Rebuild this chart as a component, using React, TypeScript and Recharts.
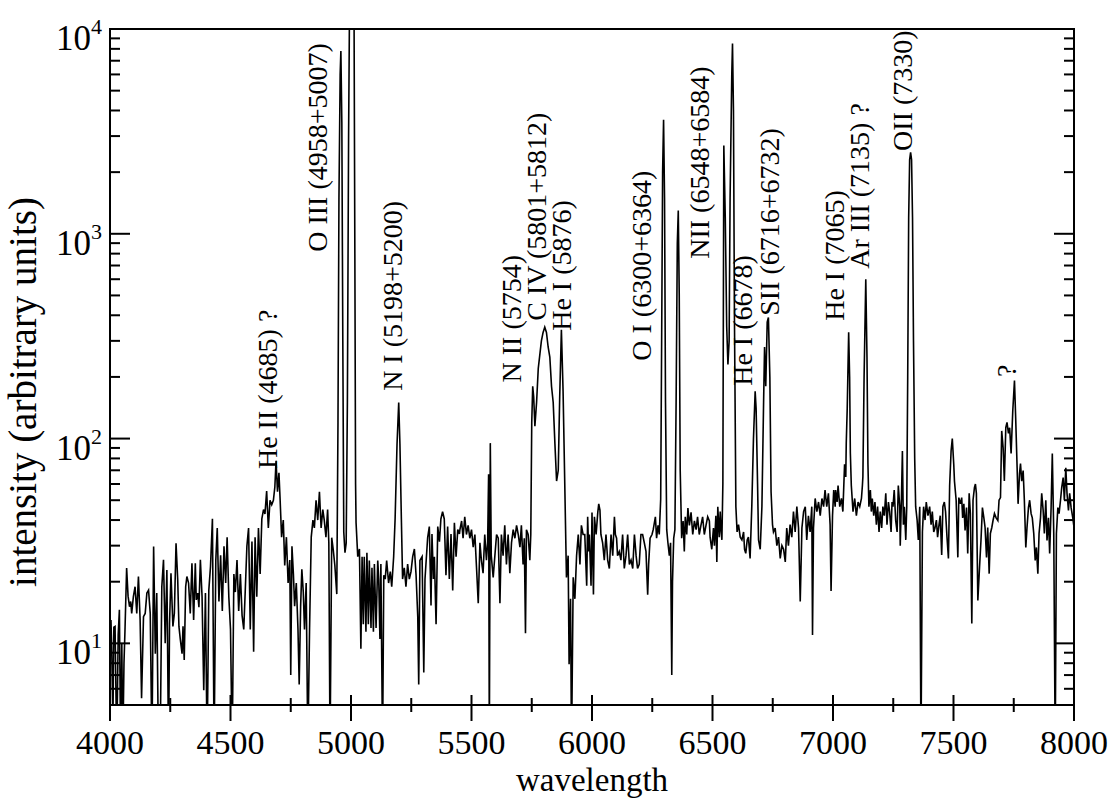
import React from "react";
import {
  LineChart,
  Line,
  XAxis,
  YAxis,
  ReferenceArea,
  ReferenceDot,
  Label,
} from "recharts";

const FONT = "Liberation Serif, Times New Roman, Times, serif";

// [wavelength, intensity], one stretch at a time
const blueNoise: [number, number][] = [
  [4000, 9], [4004, 13], [4007, 9.6], [4012, 4], [4016, 12], [4021, 12.1], [4028, 3],
  [4034, 11], [4039, 14.6], [4044, 3], [4049, 10], [4053, 3], [4058, 8], [4062, 11.4],
  [4069, 23.3], [4075, 17], [4081, 15.1], [4086, 16], [4090, 14], [4097, 16.9], [4104, 18.9],
  [4111, 14], [4118, 21.2], [4125, 13], [4131, 5.4], [4139, 13.5], [4146, 14], [4153, 17.6],
  [4160, 18.2], [4167, 14], [4174, 3], [4181, 29.7], [4188, 8.9], [4194, 17.6], [4201, 3],
  [4208, 3], [4215, 18.9], [4222, 25.6], [4229, 10], [4236, 22.8], [4243, 3], [4247, 12.5],
  [4253, 22], [4261, 12.1], [4267, 14], [4274, 30.8], [4281, 20.4], [4286, 12.1], [4292, 10.4],
  [4299, 8.9], [4303, 12.1], [4308, 8.3], [4314, 18.9], [4319, 21.2], [4326, 19.7], [4333, 14],
  [4340, 24.6], [4347, 13], [4354, 24.6], [4358, 16.3], [4364, 17.6], [4369, 15], [4375, 25.6],
  [4382, 16.9], [4389, 5.9], [4396, 17.6], [4403, 3], [4410, 18.2], [4417, 23.7],
];

const heliumII: [number, number][] = [
  [4425, 40.6], [4432, 3], [4439, 25.5], [4445, 36.6], [4452, 16], [4459, 26.9], [4466, 14.4],
  [4473, 29.8], [4480, 19.7], [4486, 33], [4493, 16.9], [4500, 11.7], [4507, 3], [4514, 21.8],
  [4520, 17.8], [4527, 25.5], [4534, 14.4], [4541, 21.8], [4548, 13.7], [4555, 11.7], [4561, 17.8],
  [4568, 29.8], [4575, 36.6], [4582, 11.7], [4589, 31.4], [4596, 9.1], [4602, 33], [4609, 16.9],
  [4616, 36.6], [4623, 21.8], [4630, 40.6], [4637, 45], [4643, 42.8], [4650, 55.5], [4657, 36.6],
  [4664, 50], [4671, 47.5], [4678, 50], [4684, 58], [4689, 78], [4695, 55], [4701, 68],
  [4706, 50], [4712, 33], [4719, 40], [4725, 24], [4732, 33], [4739, 19.7], [4746, 25.5],
  [4750, 7], [4755, 29.8], [4761, 21.8], [4766, 15.2], [4773, 19.7], [4780, 11.7], [4785, 6.3],
  [4791, 15.2], [4796, 23], [4802, 17.8], [4807, 11.7], [4814, 19.7], [4821, 3], [4828, 11.7],
  [4835, 33], [4842, 40], [4848, 36.6], [4855, 50], [4862, 40], [4869, 55], [4876, 36.6],
  [4883, 45], [4889, 40], [4896, 33], [4903, 45], [4908, 31],
];

const oxygenIII: [number, number][] = [
  [4913, 3], [4920, 32.8], [4926, 28.9], [4933, 24], [4941, 17.4], [4946, 120], [4950, 1500],
  [4955, 6000], [4958, 7800], [4962, 3500], [4966, 300], [4970, 35], [4975, 27.7], [4980, 30.8],
  [4985, 150], [4990, 3000], [4995, 20000], [5005, 40000], [5012, 20000], [5016, 800], [5019, 60],
  [5021, 38.8],
];

const nitrogenI: [number, number][] = [
  [5028, 26.5], [5035, 28.9], [5041, 9.4], [5046, 26.5], [5051, 12.4], [5055, 26.5], [5062, 11.4],
  [5066, 27.7], [5072, 12.4], [5076, 25.4], [5083, 11.9], [5087, 23.4], [5093, 11.4], [5097, 24.4],
  [5104, 11.9], [5111, 25.4], [5115, 20.6], [5120, 10.5], [5124, 24.4], [5131, 3], [5136, 21.5],
  [5142, 20.6], [5148, 25.4], [5156, 19.7], [5163, 22.4], [5169, 18.9], [5177, 26.5], [5183, 40.5],
  [5191, 94], [5198, 150], [5203, 94], [5209, 40.5], [5214, 20.6], [5221, 23.4], [5228, 18.9],
  [5235, 24.4], [5242, 20.6], [5249, 22.4], [5256, 26.5], [5263, 28.9], [5270, 21.5], [5277, 13.5],
  [5281, 6.3], [5286, 25.4], [5295, 26.5], [5302, 7.2], [5307, 20.6], [5311, 24.4], [5318, 32.8],
  [5325, 37.2], [5332, 15.3], [5336, 34.2], [5342, 20.6], [5346, 26.5], [5353, 12.4], [5360, 37.2],
  [5367, 31.4], [5373, 40.5], [5380, 44], [5387, 40.5], [5394, 21.5], [5401, 37.2], [5408, 20.6],
  [5415, 34.2], [5422, 18.1], [5429, 38.8], [5436, 26.5], [5443, 36], [5450, 34.2],
];

const carbonIV: [number, number][] = [
  [5452, 35.9], [5459, 39.6], [5465, 32.6], [5472, 41.5], [5479, 34], [5486, 37.7], [5493, 32.6],
  [5500, 35.9], [5507, 29.5], [5514, 34], [5521, 23.2], [5528, 15.7], [5535, 31], [5541, 25.5],
  [5548, 22], [5555, 34], [5562, 25.5], [5567, 31], [5571, 67], [5574, 3], [5578, 95],
  [5582, 26.8], [5590, 21], [5597, 26.8], [5604, 34], [5611, 32.6], [5618, 15.7], [5624, 34],
  [5631, 26.8], [5638, 37.7], [5645, 24.3], [5652, 34], [5659, 22], [5666, 31], [5673, 35.9],
  [5680, 32.6], [5687, 37.7], [5694, 34], [5701, 29.5], [5707, 37.7], [5714, 24.3], [5719, 32.6],
  [5724, 11.2], [5728, 35.9], [5735, 34], [5742, 25.5], [5746, 34], [5750, 120], [5754, 180],
  [5758, 160], [5763, 115], [5770, 150], [5777, 220], [5784, 260], [5790, 300], [5797, 330],
  [5804, 350], [5811, 330], [5818, 280], [5825, 250], [5832, 180], [5839, 150], [5846, 95],
  [5853, 62], [5860, 70], [5866, 160], [5873, 340], [5880, 170], [5887, 60], [5894, 21],
  [5901, 26.8], [5905, 7.9], [5911, 16.5], [5915, 3], [5922, 21], [5929, 16.5], [5936, 26.8],
  [5943, 34], [5950, 24.3], [5956, 37.7], [5963, 34], [5970, 34],
];

const oxygenI: [number, number][] = [
  [5978, 19.1], [5982, 41.5], [5986, 28.1], [5989, 34], [5996, 19.1], [6000, 43.6], [6006, 17.3],
  [6010, 41.5], [6017, 34], [6024, 43.6], [6028, 48], [6033, 44.7], [6037, 34], [6044, 31],
  [6051, 25.5], [6058, 34], [6065, 25.5], [6072, 23.2], [6079, 34], [6086, 26.8], [6093, 41.5],
  [6097, 34], [6102, 32.6], [6106, 26.8], [6113, 28.1], [6120, 25.5], [6127, 34], [6134, 23.2],
  [6141, 26.8], [6148, 34], [6155, 24.3], [6162, 25.5], [6169, 23.2], [6176, 34], [6183, 26.8],
  [6189, 23.2], [6196, 24.3], [6203, 34], [6210, 34], [6217, 31], [6224, 28.1], [6231, 17.3],
  [6235, 24.3], [6241, 32.6], [6249, 34], [6254, 35.9], [6263, 41.5], [6268, 32.6], [6274, 37.7],
  [6279, 34], [6285, 50.5], [6289, 300], [6293, 2000], [6297, 3600], [6301, 1500], [6305, 150],
  [6310, 35.9], [6315, 31], [6321, 26.8], [6326, 31], [6331, 7], [6334, 20], [6339, 32.6],
  [6344, 35.9], [6349, 150], [6354, 900], [6358, 1300], [6362, 500], [6366, 70], [6372, 32.6],
  [6378, 39.6], [6383, 28.1], [6387, 41.5], [6393, 34], [6398, 45.8], [6404, 37.7], [6411, 43.6],
  [6418, 34], [6425, 39.6], [6432, 35.9], [6438, 41.5], [6445, 34], [6452, 37.7], [6459, 41.5],
  [6466, 34], [6473, 37.7], [6480, 41.5], [6487, 39.6],
];

const nitrogenII: [number, number][] = [
  [6490, 33], [6497, 28.8], [6504, 36.6], [6508, 30], [6514, 42], [6518, 25], [6522, 46.5],
  [6528, 33], [6532, 44], [6536, 35], [6539, 32], [6543, 60], [6547, 2700], [6553, 1200],
  [6559, 350], [6564, 230], [6569, 300], [6573, 1500], [6580, 6000], [6583, 8500], [6587, 4000],
  [6591, 400], [6597, 46.5], [6602, 35], [6608, 38], [6615, 33], [6622, 32], [6629, 35],
  [6633, 28.8], [6638, 27.5], [6644, 32], [6649, 33], [6656, 26], [6663, 46.5], [6670, 100],
  [6677, 170], [6681, 140], [6687, 60], [6691, 32], [6698, 28.8], [6705, 46.5], [6712, 150],
  [6716, 280], [6721, 180], [6727, 370], [6732, 390], [6738, 200], [6743, 55], [6749, 38],
  [6753, 35], [6760, 36.6], [6767, 30], [6774, 33], [6781, 26], [6788, 30], [6795, 28.8],
  [6802, 25], [6808, 36.6], [6815, 30], [6822, 38], [6829, 33], [6836, 44], [6843, 35],
  [6850, 46.5], [6857, 36.6], [6864, 16], [6871, 36.6], [6878, 44], [6885, 46.5], [6891, 32],
  [6898, 42], [6905, 35], [6912, 46.5], [6915, 11], [6919, 36.6], [6926, 51], [6933, 44],
  [6940, 49], [6947, 42], [6954, 51], [6961, 46.5], [6967, 56], [6974, 46.5], [6981, 54],
  [6988, 38], [6992, 18], [6998, 42], [7003, 56], [7009, 46.5],
];

const argonIII: [number, number][] = [
  [7011, 56], [7017, 49], [7021, 59], [7028, 46.5], [7035, 51], [7041, 44], [7048, 75],
  [7053, 65], [7055, 95], [7059, 140], [7065, 330], [7069, 200], [7072, 85], [7076, 59],
  [7083, 44], [7090, 51], [7097, 42], [7104, 49], [7111, 46.5], [7118, 51], [7122, 59],
  [7124, 65], [7129, 200], [7136, 600], [7141, 250], [7145, 75], [7149, 46.5], [7155, 56],
  [7159, 44], [7163, 51], [7169, 42], [7174, 49], [7180, 38], [7185, 46.5], [7191, 35],
  [7196, 44], [7202, 36.6], [7207, 46.5], [7213, 42], [7219, 54], [7224, 38], [7230, 49],
  [7235, 44], [7241, 35], [7245, 49], [7249, 46.5], [7254, 56], [7260, 40], [7266, 35],
  [7271, 59], [7277, 46.5], [7279, 30], [7284, 51], [7288, 87], [7292, 38], [7296, 46.5],
  [7302, 32], [7306, 46.5], [7310, 200], [7314, 1200], [7318, 2300], [7322, 2500], [7326, 2300],
  [7330, 1200], [7334, 300], [7339, 80], [7343, 46.5], [7349, 40], [7354, 32], [7360, 46.5],
  [7365, 3], [7371, 35], [7376, 46.5], [7382, 40], [7387, 49], [7394, 42], [7401, 46.5],
  [7407, 38], [7412, 44], [7418, 35], [7423, 36.6], [7429, 40], [7434, 33], [7440, 38],
  [7445, 42], [7451, 27], [7456, 46.5], [7462, 49], [7467, 44], [7473, 33], [7479, 26],
  [7484, 59], [7490, 87], [7495, 100], [7501, 75],
];

const redEnd: [number, number][] = [
  [7504, 62], [7511, 50], [7518, 26.3], [7522, 51.5], [7529, 48], [7534, 51.5], [7538, 41],
  [7543, 48], [7548, 35.6], [7554, 46], [7559, 27.5], [7565, 54], [7570, 43], [7576, 12.5],
  [7581, 50], [7587, 57.7], [7591, 60], [7595, 54], [7601, 16.2], [7608, 23.5], [7614, 31.8],
  [7620, 46], [7626, 41], [7631, 36.8], [7637, 26.3], [7642, 36.8], [7648, 21.9], [7653, 34.4],
  [7659, 36.8], [7664, 39.8], [7670, 43], [7677, 41], [7684, 39.8], [7689, 50], [7695, 51.5],
  [7700, 109], [7706, 90], [7711, 62], [7717, 113], [7722, 120], [7728, 106], [7733, 113],
  [7739, 84.5], [7746, 137], [7753, 192], [7758, 126], [7764, 72], [7768, 48], [7774, 67.5],
  [7778, 75.5], [7783, 62], [7789, 69.8], [7794, 50], [7800, 29.4], [7805, 36.8], [7811, 46],
  [7816, 50], [7822, 43], [7827, 41], [7833, 34.4], [7839, 25.4], [7844, 29.4], [7850, 21.9],
  [7855, 34.4], [7861, 41], [7866, 54], [7872, 44.6], [7877, 34.4], [7883, 50], [7888, 31.8],
  [7894, 41], [7899, 27.5], [7905, 46], [7910, 84.5], [7916, 34.4], [7922, 3], [7927, 34.4],
  [7933, 46], [7938, 43], [7944, 50], [7949, 57.7], [7955, 64.5], [7960, 50], [7966, 72],
  [7971, 54], [7977, 44.6], [7982, 54], [7988, 46], [7995, 41], [8000, 36.8],
];

const spectrum = [
  ...blueNoise, ...heliumII, ...oxygenIII, ...nitrogenI, ...carbonIV,
  ...oxygenI, ...nitrogenII, ...argonIII, ...redEnd,
].map(([w, i]) => ({ w, i }));

const xTicks = [4000, 4250, 4500, 4750, 5000, 5250, 5500, 5750, 6000, 6250, 6500, 6750, 7000, 7250, 7500, 7750, 8000];
const yTicks = [
  5, 6, 7, 8, 9, 10, 20, 30, 40, 50, 60, 70, 80, 90, 100, 200, 300, 400, 500, 600, 700, 800, 900,
  1000, 2000, 3000, 4000, 5000, 6000, 7000, 8000, 9000, 10000,
];

// line identifications and where each label starts (wavelength, intensity)
const lineNames = [
  "He II (4685) ?", "O III (4958+5007)", "N I (5198+5200)", "N II (5754)", "C IV (5801+5812)",
  "He I (5876)", "O I (6300+6364)", "NII (6548+6584)", "He I (6678)", "SII (6716+6732)",
  "He I (7065)", "Ar III (7135) ?", "OII (7330)", "?",
];
const labelWave = [4693, 4900, 5212, 5705, 5809, 5913, 6245, 6485, 6664, 6776, 7046, 7149, 7328, 7759];
const labelLevel = [71, 817, 171, 188, 376, 336, 240, 755, 181, 398, 376, 675, 2540, 200];

const txt = (size: number) => ({ fontFamily: FONT, fontSize: size, fill: "#000" });

const isMajorLog = (v: number) => {
  const e = Math.log10(v);
  return Math.abs(e - Math.round(e)) < 1e-6;
};

const XTick = ({ x, y, payload }: any) => {
  const major = payload.value % 500 === 0;
  return (
    <g>
      <line x1={x} x2={x} y1={y - (major ? 10 : 7)} y2={y + (major ? 16 : 7)} stroke="#000" strokeWidth={2} />
      {major && (
        <text x={x} y={y + 49} textAnchor="middle" style={txt(34)}>
          {payload.value}
        </text>
      )}
    </g>
  );
};

const YTickLeft = ({ x, y, payload }: any) => {
  const major = isMajorLog(payload.value);
  return (
    <g>
      <line x1={x} x2={x + (major ? 20 : 10)} y1={y} y2={y} stroke="#000" strokeWidth={2} />
      {major && (
        <text x={x - 54} y={y + 21} style={txt(35)}>
          10
          <tspan dy={-16} style={{ fontSize: 22 }}>
            {Math.round(Math.log10(payload.value))}
          </tspan>
        </text>
      )}
    </g>
  );
};

const YTickRight = ({ x, y, payload }: any) => {
  const major = isMajorLog(payload.value);
  return <line x1={x - (major ? 20 : 10)} x2={x} y1={y} y2={y} stroke="#000" strokeWidth={2} />;
};

export default function App() {
  return (
    <div style={{ position: "absolute", left: 0, top: 0, width: 1116, height: 799, background: "#fff", fontFamily: FONT }}>
      <LineChart width={1116} height={799} data={spectrum} margin={{ top: 29, right: 0, bottom: 0, left: 0 }}>
        <XAxis
          xAxisId="x"
          dataKey="w"
          type="number"
          domain={[4000, 8000]}
          ticks={xTicks}
          interval={0}
          height={94}
          axisLine={false}
          tickLine={false}
          tickSize={0}
          tickMargin={0}
          tick={(p: any) => <XTick {...p} />}
        >
          <Label
            content={(p: any) => {
              const vb = p.viewBox ?? { x: 110, y: 705, width: 964, height: 94 };
              return (
                <text x={vb.x + vb.width / 2} y={vb.y + 86} textAnchor="middle" style={txt(33)}>
                  wavelength
                </text>
              );
            }}
          />
        </XAxis>
        <YAxis
          yAxisId="left"
          type="number"
          scale="log"
          domain={[5, 10000]}
          allowDataOverflow
          ticks={yTicks}
          interval={0}
          width={110}
          axisLine={false}
          tickLine={false}
          tickSize={0}
          tickMargin={0}
          tick={(p: any) => <YTickLeft {...p} />}
        >
          <Label
            content={(p: any) => {
              const vb = p.viewBox ?? { x: 0, y: 29, width: 110, height: 676 };
              const cy = vb.y + vb.height / 2 + 25;
              return (
                <text x={36} y={cy} transform={`rotate(-90 36 ${cy})`} textAnchor="middle" style={txt(39)}>
                  intensity (arbitrary units)
                </text>
              );
            }}
          />
        </YAxis>
        <YAxis
          yAxisId="right"
          orientation="right"
          type="number"
          scale="log"
          domain={[5, 10000]}
          allowDataOverflow
          ticks={yTicks}
          interval={0}
          width={42}
          axisLine={false}
          tickLine={false}
          tickSize={0}
          tickMargin={0}
          tick={(p: any) => <YTickRight {...p} />}
        />
        <Line
          xAxisId="x"
          yAxisId="left"
          type="linear"
          dataKey="i"
          stroke="#000"
          strokeWidth={1.6}
          dot={false}
          isAnimationActive={false}
        />
        <ReferenceArea
          xAxisId="x"
          yAxisId="left"
          x1={4000}
          x2={8000}
          y1={5}
          y2={10000}
          fill="none"
          stroke="#000"
          strokeWidth={2}
          ifOverflow="visible"
        />
        {lineNames.map((name, k) => (
          <ReferenceDot
            key={name + k}
            xAxisId="x"
            yAxisId="left"
            x={labelWave[k]}
            y={labelLevel[k]}
            r={0}
            ifOverflow="visible"
            shape={(p: any) => (
              <text x={p.cx} y={p.cy} transform={`rotate(-90 ${p.cx} ${p.cy})`} style={txt(28)}>
                {name}
              </text>
            )}
          />
        ))}
      </LineChart>
    </div>
  );
}
